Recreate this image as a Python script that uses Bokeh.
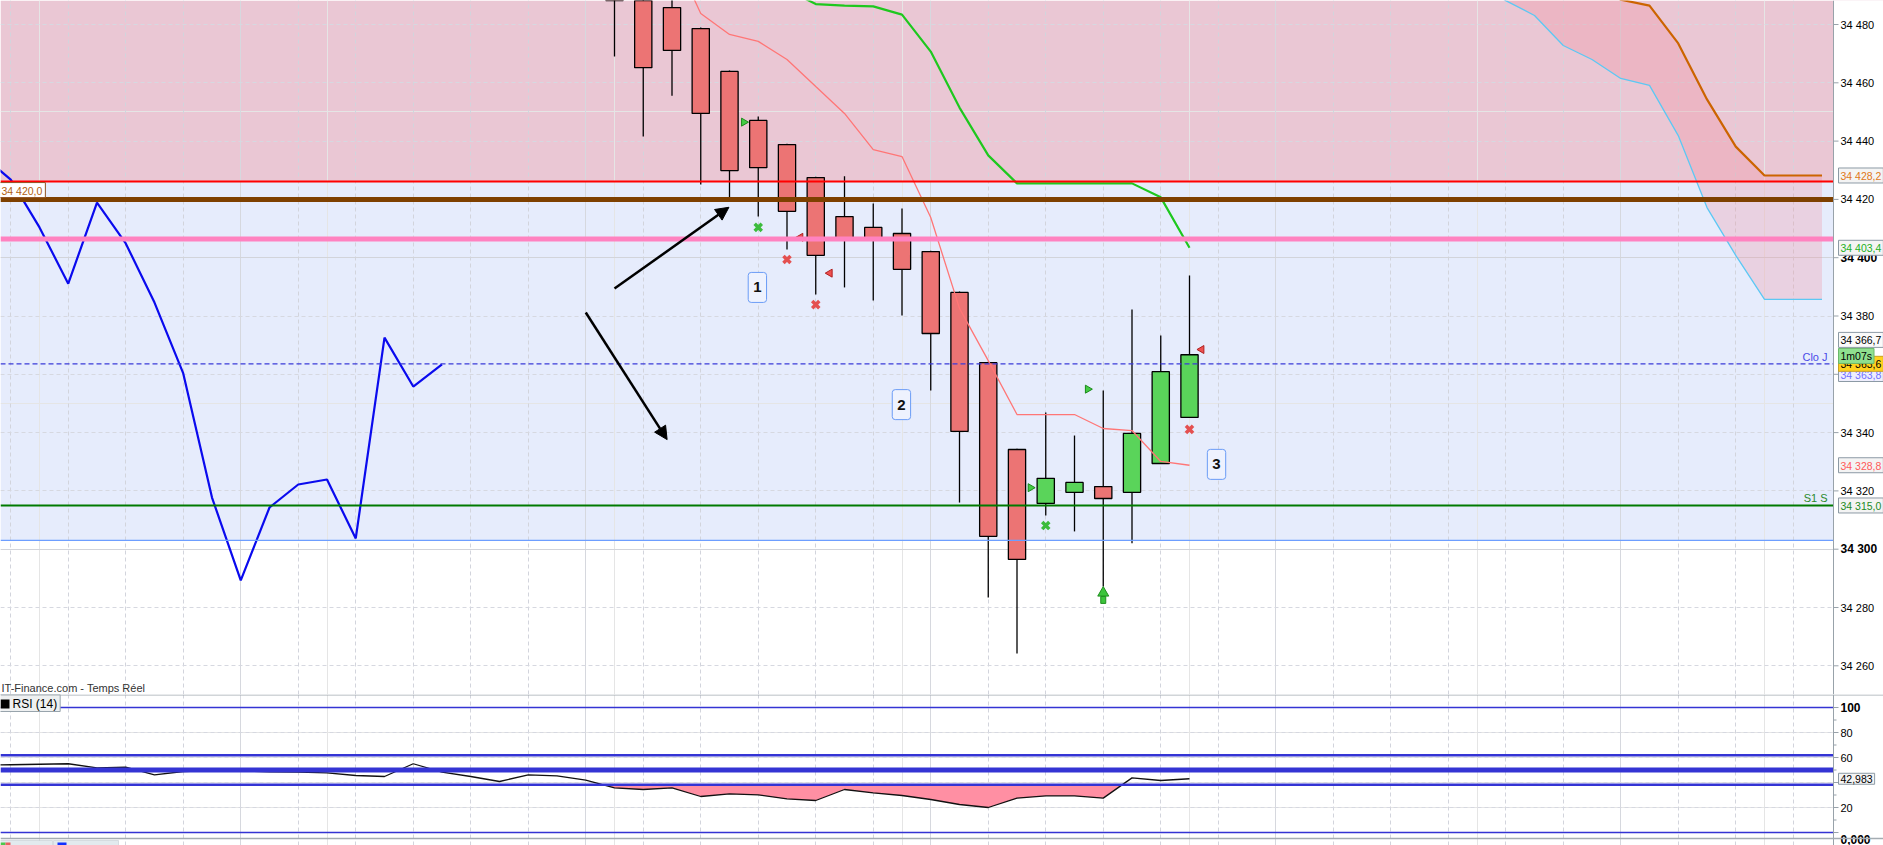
import numpy as np
from bokeh.plotting import figure
from bokeh.layouts import column
from bokeh.models import (Range1d, FixedTicker, Grid, BoxAnnotation, Label, Arrow,
                          NormalHead, Span)
from bokeh.embed import file_html
from bokeh.resources import INLINE

# ---------------- data ----------------
candle_x = list(range(0, 21))
c_open = [34504.0, 34494.0, 34485.8, 34478.6, 34463.9, 34447.1, 34438.8, 34427.5, 34414.1, 34410.4,
          34408.3, 34402.1, 34388.1, 34364.0, 34334.2, 34315.7, 34319.5, 34321.5, 34319.5, 34329.4, 34345.2]
c_high = [34508.0, 34498.0, 34492.0, 34479.0, 34464.2, 34448.4, 34439.1, 34427.8, 34427.9, 34418.6,
          34416.9, 34402.4, 34388.4, 34364.3, 34334.5, 34346.9, 34339.0, 34354.4, 34382.2, 34373.3, 34393.9]
c_low = [34469.0, 34441.6, 34455.6, 34425.1, 34420.7, 34414.1, 34402.8, 34387.4, 34389.8, 34385.3,
         34380.2, 34354.4, 34316.0, 34283.4, 34264.2, 34311.6, 34306.1, 34287.2, 34302.0, 34329.4, 34345.2]
c_close = [34500.0, 34465.2, 34471.1, 34449.5, 34429.9, 34430.9, 34415.9, 34400.8, 34406.9, 34406.6,
           34396.0, 34374.0, 34340.4, 34304.4, 34296.5, 34324.3, 34322.9, 34317.4, 34339.7, 34360.9, 34366.7]

ma_x = list(range(2, 21))
ma_vals = [34505.0, 34483.8, 34476.6, 34474.2, 34468.0, 34458.7, 34449.5, 34437.1, 34434.7, 34413.8,
           34382.6, 34364.7, 34346.2, 34346.2, 34346.2, 34341.4, 34340.7, 34330.1, 34328.8]

kijun_x = list(range(6, 21))
kijun_vals = [34492.0, 34487.0, 34486.5, 34486.2, 34483.4, 34470.7, 34451.5, 34435.1, 34425.5,
              34425.5, 34425.5, 34425.5, 34425.5, 34420.7, 34403.4]

cloud_x = list(range(28, 43))
span_a = [34510.0, 34502.0, 34494.0, 34488.2, 34483.1, 34472.8, 34468.0, 34461.5, 34459.1,
          34441.9, 34417.2, 34400.8, 34385.7, 34385.7, 34385.7]
span_b = [34540.0, 34530.0, 34520.0, 34512.0, 34505.0, 34499.0, 34495.0, 34488.5, 34486.5,
          34473.5, 34454.3, 34438.1, 34428.2, 34428.2, 34428.2]

overlay_x = list(range(-22, -5))
overlay_vals = [34435.1, 34426.8, 34410.4, 34391.1, 34418.9, 34404.9, 34384.6, 34360.3, 34317.7,
                34289.3, 34314.3, 34322.2, 34323.9, 34303.7, 34372.6, 34355.8, 34363.4]

rsi_x = list(range(-22, 21))
rsi_vals = [53.8, 54.2, 54.6, 55.0, 51.7, 52.3, 46.1, 48.8, 49.6, 49.3, 48.6, 48.3, 47.7, 45.6, 44.8,
            55.0, 48.3, 44.8, 40.8, 46.1, 45.3, 41.9, 35.7, 34.4, 35.7, 28.8, 30.9, 30.1, 26.9, 25.6,
            34.4, 31.7, 29.6, 26.4, 22.4, 20.0, 27.5, 29.3, 29.3, 27.5, 43.7, 41.6, 42.983]
rsi_levels = [100, 61.8, 50, 38.2, 0]
rsi_level_widths = [1.5, 2.5, 5, 2.5, 1.5]

# price levels
lvl_zone_top = 34426.1
lvl_brown = 34420.0
lvl_pink = 34406.4
lvl_clo = 34363.6
lvl_s1 = 34315.0
lvl_zone_bottom = 34303.0

# signal markers
tri_up_side_x = [4.5, 14.47, 16.46]
tri_up_side_y = [34446.5, 34321.1, 34354.9]
tri_dn_side_x = [6.47, 7.49, 20.42]
tri_dn_side_y = [34407.0, 34394.7, 34368.5]
x_green_x = [5, 15]
x_green_y = [34410.4, 34308.1]
x_red_x = [6, 7, 20]
x_red_y = [34399.4, 34383.9, 34341.1]
arrow_up_x = [17]
arrow_up_y = [34284.0]

# drawn arrows and numbered notes
arr_x0 = [0.0, -1.0]
arr_y0 = [34389.4, 34381.2]
arr_x1 = [3.98, 1.83]
arr_y1 = [34417.3, 34337.6]
note_text = ["1", "2", "3"]
note_x = [4.97, 9.98, 20.94]
note_y = [34389.8, 34349.6, 34329.1]

main_ticks = list(range(34260, 34481, 20))
main_bold = [34400, 34300]
rsi_ticks = [0, 20, 40, 60, 80, 100]
rsi_minor = [10, 30, 50, 70, 90]

# ---------------- layout ----------------
W_TOTAL, H_TOTAL = 1883, 845
main_h = 694
rsi_h = H_TOTAL - main_h
PX = 28.75                     # pixels per candle
xr = Range1d(-614 / PX, (W_TOTAL - 614) / PX)
x_axis = (1833 - 614) / PX     # position of the price scale
lab_x = x_axis + 7 / PX
box_x = x_axis + 5 / PX
FONT = "Liberation Sans"
AX_C = "#98a2aa"

RED_C = "#ec7474"
GREEN_C = "#5ad45a"


def fmt(v):
    return f"{v // 1000} {v % 1000:03d}"


def base_fig(h, yr):
    f = figure(frame_width=W_TOTAL, frame_height=h, x_range=xr, y_range=yr,
               x_axis_location=None, y_axis_location=None, toolbar_location=None,
               output_backend="svg", min_border=0)
    f.outline_line_color = None
    f.background_fill_color = "white"
    f.border_fill_color = "white"
    return f


def grids(fig, yticks_dashed, yticks_solid):
    minor = [k for k in range(-21, 43, 2) if (k + 1) % 12 != 0]
    major = [k for k in range(-21, 43, 2) if (k + 1) % 12 == 0]
    fig.add_layout(Grid(dimension=0, ticker=FixedTicker(ticks=minor), grid_line_color="#d2d4dc",
                        grid_line_dash="4 3", grid_line_width=1))
    fig.add_layout(Grid(dimension=0, ticker=FixedTicker(ticks=major), grid_line_color="#d6d8de",
                        grid_line_width=1))
    fig.add_layout(Grid(dimension=1, ticker=FixedTicker(ticks=yticks_dashed),
                        grid_line_color="#d6d8e0", grid_line_dash="4 3"))
    if yticks_solid:
        fig.add_layout(Grid(dimension=1, ticker=FixedTicker(ticks=yticks_solid),
                            grid_line_color="#d2d4da"))


def price_scale(fig, ticks, labels, bold, minor=(), label_y=None):
    fig.add_layout(BoxAnnotation(left=x_axis, fill_color="white", fill_alpha=1, line_color=None))
    fig.add_layout(Span(location=x_axis, dimension="height", line_color=AX_C, line_width=1))
    for t in ticks:
        fig.add_layout(Arrow(end=None, x_start=x_axis, x_end=x_axis + 5 / PX, y_start=t, y_end=t,
                             line_color=AX_C, line_width=1))
    for t in minor:
        fig.add_layout(Arrow(end=None, x_start=x_axis, x_end=x_axis + 3 / PX, y_start=t, y_end=t,
                             line_color=AX_C, line_width=1))
    label_y = label_y or {}
    for t, txt in zip(ticks, labels):
        if not txt:
            continue
        b = t in bold
        fig.add_layout(Label(x=lab_x, y=label_y.get(t, t), text=txt, text_font=FONT,
                             text_font_size="12px" if b else "11px",
                             text_font_style="bold" if b else "normal", text_color="black",
                             text_align="left", text_baseline="middle"))


def box_label(fig, y, text, color, bg="#f4f4f4", border="#8c9aa5", size="10.5px"):
    fig.add_layout(Label(x=box_x, y=y, text=text, text_color=color,
                         text_font=FONT, text_font_size=size,
                         text_baseline="middle", text_align="left",
                         background_fill_color=bg, border_line_color=border, border_line_width=1,
                         padding=dict(left=2, right=2, top=2, bottom=1)))


# ---------------- main price panel ----------------
p = base_fig(main_h, Range1d(34480 - (main_h - 24) / 2.915, 34480 + 24 / 2.915))

p.add_layout(BoxAnnotation(bottom=lvl_zone_top, fill_color="#eac7d4", fill_alpha=1,
                           line_color=None, level="image"))
p.add_layout(BoxAnnotation(bottom=lvl_zone_bottom, top=lvl_zone_top, fill_color="#e6ecfc",
                           fill_alpha=1, line_color=None, level="image"))
grids(p, [t for t in main_ticks if t not in main_bold], main_bold)

# cloud
p.varea(x=cloud_x, y1=span_a, y2=span_b, fill_color="#f08c9c", fill_alpha=0.28)

# candles
c_top = [max(o, c) for o, c in zip(c_open, c_close)]
c_bot = [min(o, c) for o, c in zip(c_open, c_close)]
c_col = [GREEN_C if c > o else RED_C for o, c in zip(c_open, c_close)]
p.segment(x0=candle_x, y0=c_high, x1=candle_x, y1=c_low, line_color="black", line_width=1.3)
p.vbar(x=candle_x, width=0.6, top=c_top, bottom=c_bot, fill_color=c_col, line_color="black",
       line_width=1.3)

# indicator lines
p.line(overlay_x, overlay_vals, line_color="#0a0aee", line_width=2.2)
p.line(ma_x, ma_vals, line_color="#ff7676", line_width=1.3)
p.line(kijun_x, kijun_vals, line_color="#1ec81e", line_width=2.2)
p.line(cloud_x, span_a, line_color="#5cc8f4", line_width=1.3)
p.line(cloud_x, span_b, line_color="#cc6400", line_width=2.2)

# signal markers
p.scatter(tri_up_side_x, tri_up_side_y, marker="triangle", size=8, angle=-np.pi / 2,
          fill_color="#44cc44", line_color="#1a8a1a", line_width=1)
p.scatter(tri_dn_side_x, tri_dn_side_y, marker="triangle", size=8, angle=np.pi / 2,
          fill_color="#ee5050", line_color="#b02020", line_width=1)
p.scatter(x_green_x, x_green_y, marker="x", size=10, line_color="#3cbc3c", line_width=3.5)
p.scatter(x_red_x, x_red_y, marker="x", size=10, line_color="#e45050", line_width=3.5)
p.scatter(arrow_up_x, [v + 1.0 for v in arrow_up_y], marker="triangle", size=11,
          fill_color="#3cc43c", line_color="#1f8f1f", line_width=1)
p.rect(arrow_up_x, [v - 1.4 for v in arrow_up_y], width=5, height=7, width_units="screen",
       height_units="screen", fill_color="#3cc43c", line_color="#1f8f1f", line_width=1)

# horizontal levels
p.add_layout(Span(location=lvl_zone_bottom, dimension="width", line_color="#6d9eff", line_width=1.2))
p.add_layout(Span(location=lvl_s1, dimension="width", line_color="#007a00", line_width=2.2))
p.add_layout(Span(location=lvl_clo, dimension="width", line_color="#3a3ad8", line_width=1.2,
                  line_dash="5 3"))
p.add_layout(Span(location=lvl_pink, dimension="width", line_color="#ff82c0", line_width=5))
p.add_layout(Span(location=lvl_brown, dimension="width", line_color="#7e4000", line_width=5))
p.add_layout(Span(location=lvl_zone_top, dimension="width", line_color="#ff0000", line_width=2))

# arrows
for x0, y0, x1, y1 in zip(arr_x0, arr_y0, arr_x1, arr_y1):
    p.add_layout(Arrow(end=NormalHead(size=13, fill_color="black", line_color="black"),
                       x_start=x0, y_start=y0, x_end=x1, y_end=y1,
                       line_color="black", line_width=2.5))

# numbered notes
for t, x, y in zip(note_text, note_x, note_y):
    p.add_layout(Label(x=x, y=y, text=t, text_font=FONT, text_font_size="15px",
                       text_font_style="bold", text_color="#111111", text_align="center",
                       text_baseline="middle", background_fill_color="#eef2fe",
                       border_line_color="#6b9cf6", border_line_width=1, border_radius=3,
                       padding=dict(left=5, right=5, top=10, bottom=10)))

# texts inside the panel
p.add_layout(Label(x=x_axis - 6 / PX, y=lvl_clo + 2.5, text="Clo J", text_font=FONT,
                   text_font_size="11px", text_color="#4a4ae8", text_align="right",
                   text_baseline="middle"))
p.add_layout(Label(x=x_axis - 6 / PX, y=lvl_s1 + 2.7, text="S1 S", text_font=FONT,
                   text_font_size="11px", text_color="#2a8a2a", text_align="right",
                   text_baseline="middle"))
p.add_layout(Label(x=xr.start + 1 / PX, y=34252.4, text="IT-Finance.com - Temps Réel",
                   text_font=FONT, text_font_size="11px", text_color="#333333",
                   text_align="left", text_baseline="middle"))
p.add_layout(Label(x=xr.start - 3 / PX, y=lvl_brown + 3.2, text="34 420,0", text_font=FONT,
                   text_font_size="10.5px", text_color="#b06010", text_align="left",
                   text_baseline="middle", background_fill_color="white",
                   border_line_color="#905020", border_line_width=1,
                   padding=dict(left=4, right=3, top=2, bottom=1)))

# price scale
price_scale(p, main_ticks, [fmt(t) for t in main_ticks], main_bold)
box_label(p, span_b[-1], "34 428,2", "#e07818")
box_label(p, kijun_vals[-1], "34 403,4", "#22b022")
box_label(p, 34360.1, "34 363,8", "#7070ff", bg="#eeeefc")
box_label(p, lvl_clo, "34 363,6", "#000000", bg="#ffd21f", border="#c8a020")
box_label(p, c_close[-1] + 5.1, "34 366,7", "#000000", bg="#fafafa")
box_label(p, c_close[-1] - 0.4, "1m07s", "#000000", bg="#8fe08f", border="#6ab86a")
box_label(p, ma_vals[-1], "34 328,8", "#ff5a5a")
box_label(p, lvl_s1, "34 315,0", "#1e8a1e")

# ---------------- RSI panel ----------------
RPX = 1.25   # pixels per RSI point
r = base_fig(rsi_h, Range1d((832 - 845) / RPX, (832 - 694) / RPX))
grids(r, rsi_ticks, [])

lvl = rsi_levels[3]
fx, fy = [], []
for j in range(len(rsi_x)):
    if j > 0:
        a, b = rsi_vals[j - 1] - lvl, rsi_vals[j] - lvl
        if a * b < 0:
            t = a / (a - b)
            fx.append(rsi_x[j - 1] + t * (rsi_x[j] - rsi_x[j - 1]))
            fy.append(lvl)
    fx.append(rsi_x[j])
    fy.append(min(rsi_vals[j], lvl))
r.varea(x=fx, y1=fy, y2=[lvl] * len(fx), fill_color="#ff8fa3", fill_alpha=1)
r.line(rsi_x, rsi_vals, line_color="#111111", line_width=1.3)

for lv, w in zip(rsi_levels, rsi_level_widths):
    r.add_layout(Span(location=lv, dimension="width", line_color="#3434d4", line_width=w))

# legend box
r.add_layout(Label(x=xr.start - 2 / PX, y=(832 - 702.5) / RPX, text="RSI (14)", text_font=FONT,
                   text_font_size="12px", text_color="#000000", text_align="left",
                   text_baseline="middle", background_fill_color="#eef0f1",
                   border_line_color="#98a4ac", border_line_width=1,
                   padding=dict(left=14, right=3, top=2, bottom=1)))
r.add_layout(BoxAnnotation(left=xr.start, right=xr.start + 9 / PX, bottom=(832 - 708) / RPX,
                           top=(832 - 699) / RPX, fill_color="black", fill_alpha=1, line_color=None))

# price scale of the RSI
price_scale(r, rsi_ticks, ["0,000", "20", "", "60", "80", "100"], [100, 0], minor=rsi_minor,
            label_y={0: (832 - 838.5) / RPX})
box_label(r, rsi_vals[-1], "42,983", "#000000")

# panel separators
r.add_layout(Span(location=(832 - 694.5) / RPX, dimension="width", line_color="#a4acb2",
                  line_width=1.2))
r.add_layout(Span(location=(832 - 838) / RPX, dimension="width", line_color="#a4acb2",
                  line_width=1.5))

# bottom tabs (cut by the window edge)
tab_top, tab_bot = (832 - 840) / RPX, (832 - 850) / RPX
r.add_layout(BoxAnnotation(left=xr.start - 2 / PX, right=xr.start + 52 / PX, bottom=tab_bot,
                           top=tab_top, fill_color="#e2eaee", fill_alpha=1, line_color="#98a4ac"))
r.add_layout(BoxAnnotation(left=xr.start + 53 / PX, right=xr.start + 118 / PX, bottom=tab_bot,
                           top=tab_top, fill_color="#e2eaee", fill_alpha=1, line_color="#98a4ac"))
r.add_layout(BoxAnnotation(left=xr.start, right=xr.start + 5 / PX, bottom=tab_bot,
                           top=(832 - 842) / RPX, fill_color="#4cc84c", fill_alpha=1, line_color=None))
r.add_layout(BoxAnnotation(left=xr.start + 5 / PX, right=xr.start + 10 / PX, bottom=tab_bot,
                           top=(832 - 842) / RPX, fill_color="#e86060", fill_alpha=1, line_color=None))
r.add_layout(BoxAnnotation(left=xr.start + 57 / PX, right=xr.start + 66 / PX, bottom=tab_bot,
                           top=(832 - 842) / RPX, fill_color="#1030ff", fill_alpha=1, line_color=None))

layout = column(p, r, spacing=0)
open("out.html", "w").write(file_html(layout, INLINE))
